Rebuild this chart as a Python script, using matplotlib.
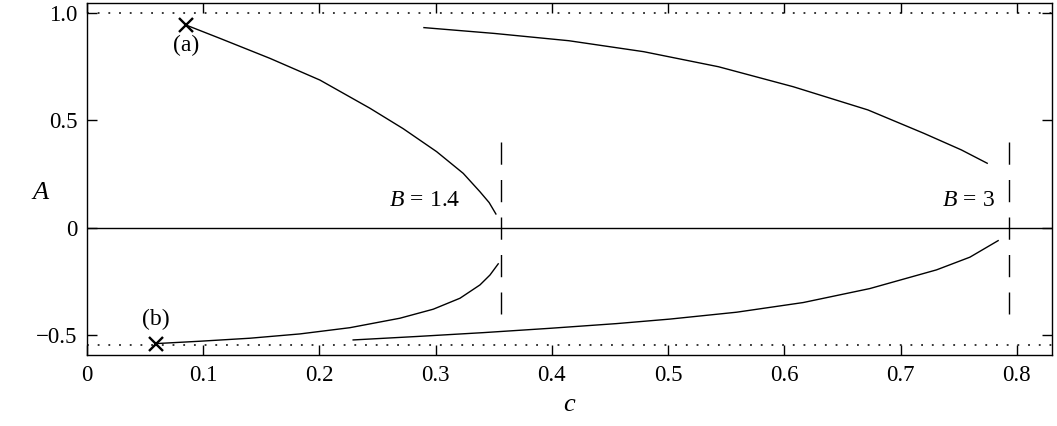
import matplotlib
matplotlib.use("Agg")
import matplotlib.pyplot as plt

plt.rcParams["font.family"] = ["Liberation Serif", "DejaVu Serif"]
plt.rcParams["mathtext.fontset"] = "custom"
plt.rcParams["mathtext.rm"] = "Liberation Serif"
plt.rcParams["mathtext.it"] = "Liberation Serif:italic"
plt.rcParams["axes.unicode_minus"] = True

# ── Data ──────────────────────────────────────────────────────────────────

# B = 1.4, upper branch
c_b14_up = [0.0852, 0.1144, 0.1574, 0.2004, 0.2434, 0.2720, 0.3008,
            0.3237, 0.3380, 0.3460, 0.3518]
A_b14_up = [0.944, 0.882, 0.789, 0.688, 0.557, 0.462, 0.355,
            0.254, 0.169, 0.118, 0.065]

# B = 1.4, lower branch
c_b14_lo = [0.0594, 0.0972, 0.1402, 0.1832, 0.2262, 0.2692, 0.2979,
            0.3209, 0.3381, 0.3467, 0.3538]
A_b14_lo = [-0.538, -0.527, -0.513, -0.493, -0.464, -0.420, -0.378,
            -0.327, -0.265, -0.219, -0.167]

# B = 3, upper branch
c_b3_up = [0.2899, 0.3504, 0.4146, 0.4790, 0.5433, 0.6076, 0.6719,
           0.7201, 0.7523, 0.7745]
A_b3_up = [0.932, 0.905, 0.871, 0.820, 0.750, 0.657, 0.549,
           0.440, 0.363, 0.301]

# B = 3, lower branch
c_b3_lo = [0.2290, 0.2836, 0.3410, 0.3980, 0.4556, 0.5015, 0.5589,
           0.6162, 0.6735, 0.7309, 0.7596, 0.7839]
A_b3_lo = [-0.521, -0.505, -0.487, -0.467, -0.445, -0.424, -0.392,
           -0.347, -0.282, -0.195, -0.136, -0.059]

# critical speeds (dashed verticals) and limit levels (dotted)
c_crit = [0.356, 0.793]
A_levels = [1.0, -0.543]

# marked states (a) and (b)
mark_c = [0.0852, 0.0594]
mark_A = [0.944, -0.538]
mark_lbl = ["(a)", "(b)"]
mark_lbl_A = [0.851, -0.428]

xticks = [0, 0.1, 0.2, 0.3, 0.4, 0.5, 0.6, 0.7, 0.8]
xtick_labels = ["0", "0.1", "0.2", "0.3", "0.4", "0.5", "0.6", "0.7", "0.8"]
yticks = [-0.5, 0, 0.5, 1.0]
ytick_labels = ["\u22120.5", "0", "0.5", "1.0"]

# ── Plot ──────────────────────────────────────────────────────────────────

fig = plt.figure(figsize=(10.57, 4.26), dpi=100)
ax = fig.add_axes([0.0823, 0.1667, 0.9127, 0.827])

lw = 1.0
for cs, As in [(c_b14_up, A_b14_up), (c_b14_lo, A_b14_lo),
               (c_b3_up, A_b3_up), (c_b3_lo, A_b3_lo)]:
    ax.plot(cs, As, color="black", lw=lw, solid_joinstyle="round")

ax.axhline(0, color="black", lw=lw)
for lev in A_levels:
    ax.axhline(lev, color="black", lw=1.1, linestyle=(0, (1.2, 5.8)))
for cc in c_crit:
    ax.plot([cc, cc], [0.40, -0.40], color="black", lw=lw,
            linestyle=(0, (16, 11)))

ax.plot(mark_c, mark_A, linestyle="none", marker="x", color="black",
        markersize=10, markeredgewidth=1.7)
for cc, aa, t in zip(mark_c, mark_lbl_A, mark_lbl):
    ax.text(cc, aa, t, ha="center", va="center", fontsize=17)

ax.text(0.321, 0.13, r"$B\,=\,1.4$", ha="right", va="center", fontsize=17)
ax.text(0.781, 0.13, r"$B\,=\,3$", ha="right", va="center", fontsize=17)

ax.set_xlim(0, 0.830)
ax.set_ylim(-0.591, 1.048)
ax.set_xticks(xticks)
ax.set_xticklabels(xtick_labels)
ax.set_yticks(yticks)
ax.set_yticklabels(ytick_labels)
ax.tick_params(direction="in", length=7, width=1.0, top=True, right=True,
               labelsize=16.5, pad=7)
for s in ax.spines.values():
    s.set_linewidth(1.0)

ax.set_xlabel(r"$c$", fontsize=19, labelpad=6)
ax.set_ylabel(r"$A$", fontsize=19, rotation=0, va="center", ha="center")
ax.yaxis.set_label_coords(-0.048, 0.46)

fig.savefig("out.png", dpi=100)
